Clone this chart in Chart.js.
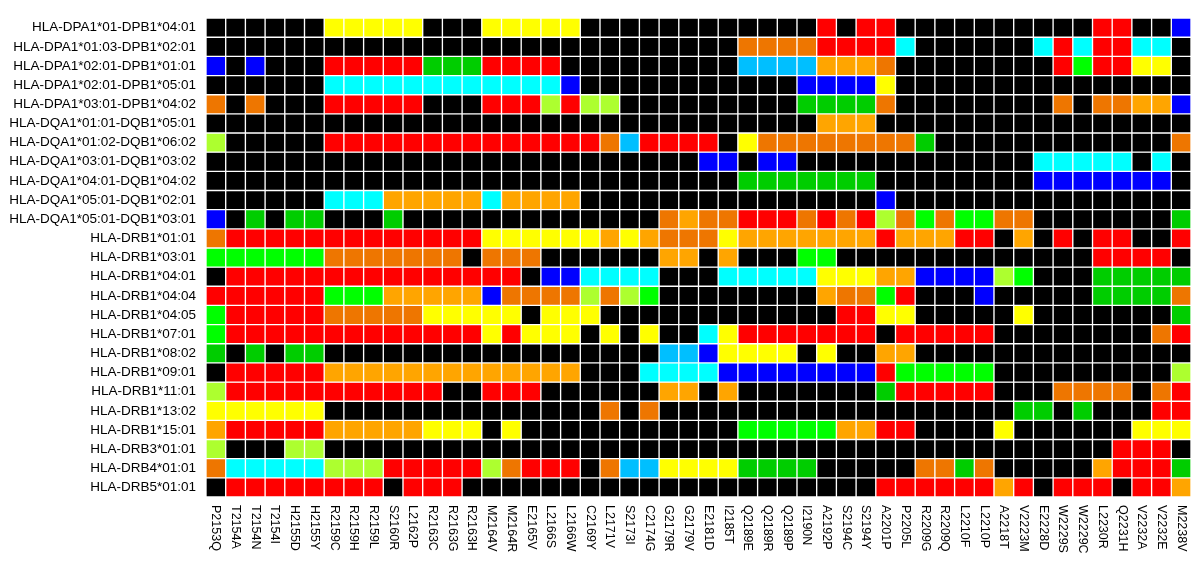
<!DOCTYPE html>
<html>
<head>
<meta charset="utf-8">
<script src="https://cdn.jsdelivr.net/npm/chart.js@4/dist/chart.umd.min.js"></script>
<style>
  html, body { margin: 0; padding: 0; background: #fff; }
  #wrap { width: 1199px; height: 563px; }
</style>
</head>
<body>
<div id="wrap"><canvas id="heat"></canvas></div>
<script>
const rowLabels = [
  'HLA-DPA1*01-DPB1*04:01', 'HLA-DPA1*01:03-DPB1*02:01', 'HLA-DPA1*02:01-DPB1*01:01',
  'HLA-DPA1*02:01-DPB1*05:01', 'HLA-DPA1*03:01-DPB1*04:02', 'HLA-DQA1*01:01-DQB1*05:01',
  'HLA-DQA1*01:02-DQB1*06:02', 'HLA-DQA1*03:01-DQB1*03:02', 'HLA-DQA1*04:01-DQB1*04:02',
  'HLA-DQA1*05:01-DQB1*02:01', 'HLA-DQA1*05:01-DQB1*03:01', 'HLA-DRB1*01:01',
  'HLA-DRB1*03:01', 'HLA-DRB1*04:01', 'HLA-DRB1*04:04', 'HLA-DRB1*04:05',
  'HLA-DRB1*07:01', 'HLA-DRB1*08:02', 'HLA-DRB1*09:01', 'HLA-DRB1*11:01',
  'HLA-DRB1*13:02', 'HLA-DRB1*15:01', 'HLA-DRB3*01:01', 'HLA-DRB4*01:01', 'HLA-DRB5*01:01'
];

const colLabels = [
  'P2153Q', 'T2154A', 'T2154N', 'T2154I', 'H2155D', 'H2155Y', 'R2159C', 'R2159H', 'R2159L', 'S2160R',
  'L2162P', 'R2163C', 'R2163G', 'R2163H', 'M2164V', 'M2164R', 'E2165V', 'L2166S', 'L2166W', 'C2169Y',
  'L2171V', 'S2173I', 'C2174G', 'G2179R', 'G2179V', 'E2181D', 'I2185T', 'Q2189E', 'Q2189R', 'Q2189P',
  'I2190N', 'A2192P', 'S2194C', 'S2194Y', 'A2201P', 'P2205L', 'R2209G', 'R2209Q', 'L2210F', 'L2210P',
  'A2218T', 'V2223M', 'E2228D', 'W2229S', 'W2229C', 'L2230R', 'Q2231H', 'V2232A', 'V2232E', 'M2238V'
];

// one letter per cell, one string per row (see palette below)
const cellCodes = [
  'KKKKKKYYYYYKKKYYYYYKKKKKKKKKKKKRKRRKKKKKKKKKKRRKKB',
  'KKKKKKKKKKKKKKKKKKKKKKKKKKKOOOORRRRCKKKKKKCRCRRCCK',
  'BKBKKKRRRRRGGGRRRRKKKKKKKKKSSSSAAAOKKKKKKKKRLRRYYK',
  'KKKKKKCCCCCCCCCCCCBKKKKKKKKKKKBBBBYKKKKKKKKKKKKKKK',
  'OKOKKKRRRRRKKKRRRWRWWKKKKKKKKKGGGGOKKKKKKKKOKOOAAB',
  'KKKKKKKKKKKKKKKKKKKKKKKKKKKKKKKAAAKKKKKKKKKKKKKKKK',
  'WKKKKKRRRRRRRRRRRRRROSRRRRKYOOOOOOOOGKKKKKKKKKKKKO',
  'KKKKKKKKKKKKKKKKKKKKKKKKKBBKBBKKKKKKKKKKKKCCCCCKCK',
  'KKKKKKKKKKKKKKKKKKKKKKKKKKKGGGGGGGKKKKKKKKBBBBBBBK',
  'KKKKKKCCCAAAAACAAAAKKKKKKKKKKKKKKKBKKKKKKKKKKKKKKK',
  'BKGKGGKKKGKKKKKKKKKKKKKOAOORRRORORWOLOLLOOKKKKKKKG',
  'ORRRRRRRRRRRRRYYYYYYAYAOOOYAAAAAAARAAARRKAKRKRRKKR',
  'LLLLLLOOOOOOOKOOOKKKKKKAAKAKKKLLKKKKKKKKKKKKKRRRRK',
  'KRRRRRRRRRRRRRRRKBBCCCCKKKCCCCCYYYAABBBBWLKKKGGGGG',
  'RRRRRRLLLAAAAABOOOOWOWLKKKKKKKKAOOLRKKKBKKKKKGGGGO',
  'LRRRRROOOOOYYYYYKYYYKKKKKKKKKKKKRRYYKKKKKYKKKKKKKG',
  'LRRRRRRRRRRRRRYRYYYKYKYKKCYRRRRRRRKRRRRRKKKKKKKKOR',
  'GKGKGGKKKKKKKKKKKKKKKKKSSBYYYYKYKKAAKKKKKKKKKKKKKK',
  'KRRRRRAAAAAAAAAAAAAKKKCCCCBBBBBBBBRLLLLLKKKKKKKKKW',
  'WRRRRRRRRRRRKKRRRKKKKKKAAKAKKKKKKKGRRRRRKKKOOOOKOR',
  'YYYYYYKKKKKKKKKKKKKKOKOKKKKKKKKKKKKKKKKKKGGKGKKKRR',
  'ARRRRRAAAAAYYYKYKKKKKKKKKKKLLLLLAARRKKKKYKKKKKKYYY',
  'WKKKWWKKKKKKKKKKKKKKKKKKKKKKKKKKKKKKKKKKKKKKKKRRRK',
  'OCCCCCWWWRRRRRWORRRKOSSYYYYGGGGKKKKKOOGOKKKKKARRRG',
  'KRRRRRRRRKRRRKKKKKKKKKKKKKKKKKKKKKRRRRRRARKRRRKRRA'
];

const palette = {
  K: '#000000', R: '#ff0000', O: '#ee7600', A: '#ffa500', Y: '#ffff00',
  W: '#adff2f', L: '#00ff00', G: '#00cd00', C: '#00ffff', S: '#00bfff', B: '#0000ff'
};

const FONT = '"Liberation Sans", Arial, Helvetica, sans-serif';

// x labels read top-to-bottom, so they are drawn here rather than by the axis
const colLabelPlugin = {
  id: 'colLabels',
  afterDraw(chart) {
    const ctx = chart.ctx;
    const xs = chart.scales.x;
    const top = chart.chartArea.bottom + 8;
    ctx.save();
    ctx.font = '12.5px ' + FONT;
    ctx.fillStyle = '#000';
    ctx.textAlign = 'left';
    ctx.textBaseline = 'middle';
    colLabels.forEach((lab, i) => {
      ctx.save();
      ctx.translate(xs.getPixelForValue(i), top);
      ctx.rotate(Math.PI / 2);
      ctx.fillText(lab, 0, 0);
      ctx.restore();
    });
    ctx.restore();
  }
};

const datasets = rowLabels.map((name, r) => ({
  label: name,
  data: colLabels.map(() => [r, r + 1]),
  backgroundColor: cellCodes[r].split('').map(c => palette[c]),
  borderColor: '#ffffff',
  borderWidth: 1,
  borderSkipped: false,
  barPercentage: 1,
  categoryPercentage: 1
}));

new Chart(document.getElementById('heat'), {
  type: 'bar',
  data: { labels: colLabels, datasets: datasets },
  options: {
    responsive: true,
    maintainAspectRatio: false,
    animation: false,
    devicePixelRatio: 1,
    layout: { padding: { top: 4, right: 8, left: 0, bottom: 0 } },
    datasets: { bar: { grouped: false } },
    scales: {
      x: {
        grid: { display: false },
        border: { display: false },
        ticks: { display: false },
        afterFit: axis => { axis.height = 66; }
      },
      y: {
        min: 0,
        max: rowLabels.length,
        reverse: true,
        grid: { display: false, drawTicks: false },
        border: { display: false },
        afterBuildTicks: axis => {
          axis.ticks = rowLabels.map((_, i) => ({ value: i + 0.5 }));
        },
        afterFit: axis => { axis.width = 206; },
        ticks: {
          autoSkip: false,
          padding: 10,
          color: '#000',
          font: { size: 13.5, family: FONT },
          callback: (v, i) => rowLabels[i]
        }
      }
    },
    plugins: {
      legend: { display: false },
      tooltip: { enabled: false }
    }
  },
  plugins: [colLabelPlugin]
});
</script>
</body>
</html>
